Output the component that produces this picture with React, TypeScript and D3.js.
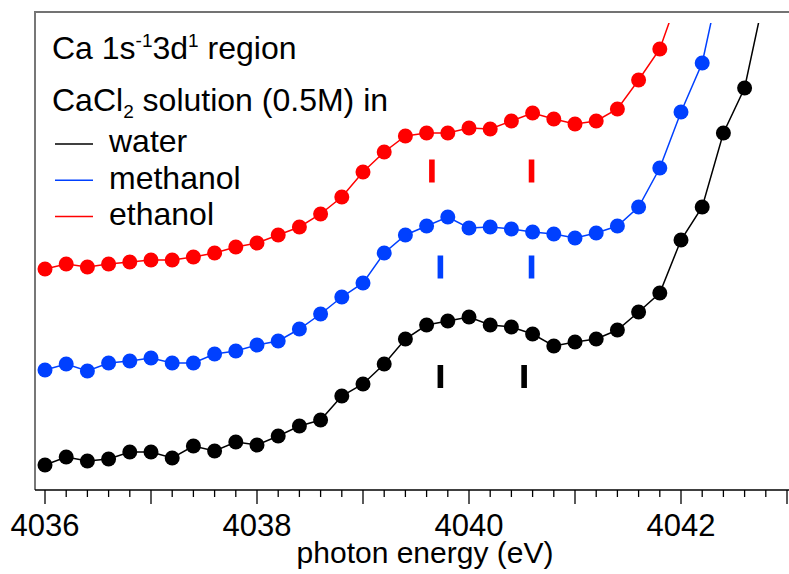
import React from 'react';
import { scaleLinear, line, range } from 'd3';

// photon energy grid (eV), 0.2 eV steps
const energies = range(0, 35).map(i => +(4036 + i * 0.2).toFixed(1));

// intensities (arb. units, offset per solvent)
const water = [0.24, 0.32, 0.28, 0.30, 0.37, 0.37, 0.31, 0.43, 0.38, 0.47, 0.44, 0.53, 0.63, 0.69, 0.93, 1.05, 1.25, 1.50, 1.64, 1.68, 1.72, 1.64, 1.62, 1.55, 1.43, 1.47, 1.50, 1.59, 1.77, 1.96, 2.49, 2.82, 3.56, 4.01, 5.00];
const methanol = [1.19, 1.25, 1.18, 1.26, 1.28, 1.31, 1.26, 1.26, 1.35, 1.38, 1.44, 1.48, 1.60, 1.75, 1.92, 2.06, 2.36, 2.54, 2.63, 2.72, 2.61, 2.62, 2.60, 2.57, 2.55, 2.51, 2.56, 2.63, 2.82, 3.21, 3.77, 4.26, 5.24];
const ethanol = [2.20, 2.25, 2.22, 2.25, 2.27, 2.29, 2.29, 2.32, 2.36, 2.42, 2.46, 2.54, 2.62, 2.75, 2.92, 3.17, 3.37, 3.53, 3.56, 3.56, 3.61, 3.60, 3.68, 3.76, 3.70, 3.65, 3.68, 3.80, 4.09, 4.40, 5.00];

// peak positions marked with bars: [energy, level]
const waterPeaks = [[4039.73, 1.125], [4040.52, 1.125]];
const methanolPeaks = [[4039.73, 2.22], [4040.59, 2.22]];
const ethanolPeaks = [[4039.65, 3.18], [4040.59, 3.18]];

const seriesNames = ['water', 'methanol', 'ethanol'];
const seriesColors = ['#000000', '#0040ff', '#ff0000'];
const seriesValues = [water, methanol, ethanol];
const seriesPeaks = [waterPeaks, methanolPeaks, ethanolPeaks];

const tickLabels = [4036, 4038, 4040, 4042];

export default function App() {
  const width = 789, height = 574;
  const left = 35, right = 789, top = 12, bottom = 490;

  const x = scaleLinear().domain([4036 - 10 / 106, 4036 + 744 / 106]).range([left, right]);
  const y = scaleLinear().domain([0, 4.77]).range([489, 12]);

  const lineF = line<[number, number]>()
    .x(d => x(d[0]))
    .y(d => y(d[1]));

  // minor ticks every 0.2 eV, long ones on whole eV
  const ticks = range(0, 36).map(i => +(4036 + i * 0.2).toFixed(1)).filter(t => x(t) <= right + 0.5);

  const font = 'Liberation Sans, Arial, sans-serif';

  return (
    <svg width={width} height={height} style={{ position: 'absolute', left: 0, top: 0 }}>
      <defs>
        <clipPath id="plot">
          <rect x={left} y={23} width={right - left} height={bottom - 23} />
        </clipPath>
      </defs>
      <rect x={0} y={0} width={width} height={height} fill="#fff" />

      {/* frame */}
      <line x1={34} x2={right} y1={top} y2={top} stroke="#444" strokeWidth={1.5} />
      <line x1={left} x2={left} y1={top} y2={bottom} stroke="#777" strokeWidth={2} />
      <line x1={left} x2={right} y1={bottom} y2={bottom} stroke="#000" strokeWidth={1.5} />

      {ticks.map(t => {
        const major = Math.abs(t - Math.round(t)) < 1e-6;
        return <line key={t} x1={x(t)} x2={x(t)} y1={bottom} y2={bottom + (major ? 14 : 7)} stroke="#000" strokeWidth={1.3} />;
      })}
      {tickLabels.map(t => (
        <text key={t} x={x(t)} y={536} textAnchor="middle" fontFamily={font} fontSize={31} fill="#000">{t}</text>
      ))}
      <text x={425} y={563} textAnchor="middle" fontFamily={font} fontSize={30} fill="#000">photon energy (eV)</text>

      {/* data */}
      <g clipPath="url(#plot)">
        {seriesValues.map((vals, i) => {
          const pts = vals.map((v, j) => [energies[j], v] as [number, number]);
          return (
            <g key={seriesNames[i]}>
              <path d={lineF(pts) || ''} fill="none" stroke={seriesColors[i]} strokeWidth={1.5} />
              {pts.map((p, j) => (
                <circle key={j} cx={x(p[0])} cy={y(p[1])} r={7.5} fill={seriesColors[i]} />
              ))}
            </g>
          );
        })}
        {seriesPeaks.map((peaks, i) => peaks.map((p, j) => (
          <rect key={i + '-' + j} x={x(p[0]) - 2.8} width={5.6} y={y(p[1]) - 11.5} height={23} fill={seriesColors[i]} />
        )))}
      </g>

      {/* legend */}
      <text x={52} y={59} fontFamily={font} fontSize={32} fill="#000">
        Ca 1s<tspan dy={-12} fontSize={19}>-1</tspan><tspan dy={12}>3d</tspan><tspan dy={-12} fontSize={19}>1</tspan><tspan dy={12}> region</tspan>
      </text>
      <text x={52} y={111} fontFamily={font} fontSize={32} fill="#000">
        CaCl<tspan dy={7} fontSize={19}>2</tspan><tspan dy={-7}> solution (0.5M) in</tspan>
      </text>
      {seriesNames.map((n, i) => (
        <g key={n}>
          <line x1={55} x2={93} y1={144 + i * 36.2} y2={144 + i * 36.2} stroke={seriesColors[i]} strokeWidth={1.5} />
          <text x={109} y={152 + i * 36.5} fontFamily={font} fontSize={32} fill="#000">{n}</text>
        </g>
      ))}
    </svg>
  );
}
